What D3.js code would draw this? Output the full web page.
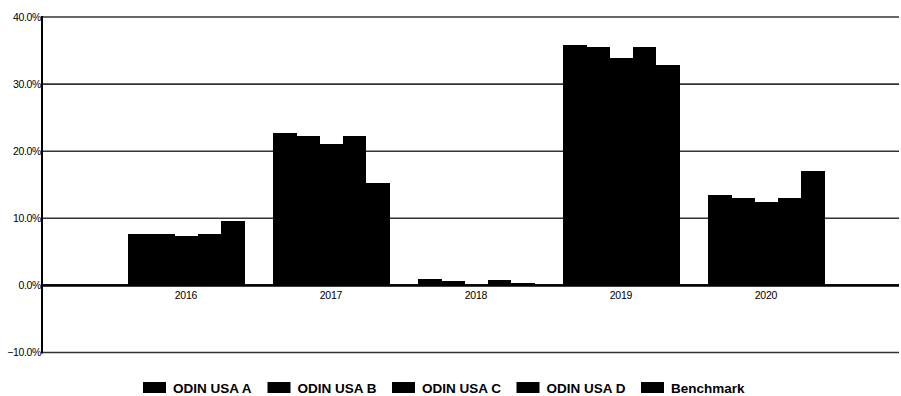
<!DOCTYPE html>
<html>
<head>
<meta charset="utf-8">
<script src="https://cdn.jsdelivr.net/npm/d3@7"></script>
<style>
  html, body { margin: 0; padding: 0; background: #fff; }
  svg { display: block; }
</style>
</head>
<body>
<svg id="chart" width="901" height="396"></svg>
<script>
const years = ["2016", "2017", "2018", "2019", "2020"];
const seriesNames = ["ODIN USA A", "ODIN USA B", "ODIN USA C", "ODIN USA D", "Benchmark"];
const odinA = [7.6, 22.7, 0.9, 35.8, 13.5];
const odinB = [7.6, 22.3, 0.7, 35.5, 13.0];
const odinC = [7.4, 21.1, 0.1, 33.9, 12.4];
const odinD = [7.6, 22.3, 0.75, 35.5, 13.0];
const benchmark = [9.6, 15.2, 0.35, 32.9, 17.0];
const yTicks = [-10, 0, 10, 20, 30, 40];

(function () {
const seriesValues = [odinA, odinB, odinC, odinD, benchmark];
const colors = ["#000", "#000", "#000", "#000", "#000"];

const svg = d3.select("#chart");
const mLeft = 42, mRight = 899, mTop = 17, mBottom = 352.5;

const y = d3.scaleLinear().domain([-10, 40]).range([mBottom, mTop]);
const x0 = d3.scaleBand().domain(years).range([mLeft, mRight])
  .paddingInner(0.2).paddingOuter(0.555).align(0.534);
const x1 = d3.scaleBand().domain(seriesNames).range([0, x0.bandwidth()]).padding(0);

// gridlines
svg.append("g").selectAll("line").data(yTicks).join("line")
  .attr("x1", mLeft).attr("x2", mRight)
  .attr("y1", d => y(d)).attr("y2", d => y(d))
  .attr("stroke", d => d === 0 ? "#000" : "#333")
  .attr("stroke-width", d => d === 0 ? 2.2 : 1.6);

// bars
const groups = svg.append("g").selectAll("g").data(years).join("g")
  .attr("transform", d => `translate(${x0(d)},0)`);
groups.selectAll("rect")
  .data((yr, i) => seriesNames.map((s, j) => ({ s, v: seriesValues[j][i], c: colors[j] })))
  .join("rect")
  .attr("x", d => x1(d.s))
  .attr("width", x1.bandwidth() + 0.6)
  .attr("y", d => y(Math.max(0, d.v)))
  .attr("height", d => Math.abs(y(d.v) - y(0)))
  .attr("fill", d => d.c)
  .attr("shape-rendering", "crispEdges");

// redraw zero line over bars
svg.append("line")
  .attr("x1", mLeft).attr("x2", mRight)
  .attr("y1", y(0)).attr("y2", y(0))
  .attr("stroke", "#000").attr("stroke-width", 2.2);

// y axis
const yAxis = d3.axisLeft(y).tickValues(yTicks).tickSize(0).tickPadding(1)
  .tickFormat(d => d3.format(".1f")(d) + "%");
const ya = svg.append("g").attr("transform", `translate(${mLeft},0)`).call(yAxis);
ya.select(".domain").remove();
ya.selectAll("text")
  .attr("font-family", "Liberation Sans, Arial, sans-serif")
  .attr("font-size", 10.5).attr("fill", "#000")
  .attr("letter-spacing", "-0.35");
svg.append("line")
  .attr("x1", mLeft).attr("x2", mLeft)
  .attr("y1", mTop - 1).attr("y2", mBottom + 1)
  .attr("stroke", "#000").attr("stroke-width", 2);

// x labels
svg.append("g").selectAll("text").data(years).join("text")
  .attr("x", d => x0(d) + x0.bandwidth() / 2)
  .attr("y", 298.5)
  .attr("text-anchor", "middle")
  .attr("font-family", "Liberation Sans, Arial, sans-serif")
  .attr("font-size", 10.5).attr("letter-spacing", "-0.2")
  .attr("fill", "#000")
  .text(d => d);

// legend
const legend = svg.append("g").selectAll("g").data(seriesNames).join("g")
  .attr("transform", (d, i) => `translate(${143 + i * 124.5},382)`);
legend.append("rect").attr("x", 0).attr("y", 0).attr("width", 23).attr("height", 11)
  .attr("fill", (d, i) => colors[i]);
legend.append("text").attr("x", 30).attr("y", 10.5)
  .attr("font-family", "Liberation Sans, Arial, sans-serif")
  .attr("font-size", 13.5).attr("font-weight", "bold")
  .attr("fill", "#000")
  .text(d => d);
})();
</script>
</body>
</html>
